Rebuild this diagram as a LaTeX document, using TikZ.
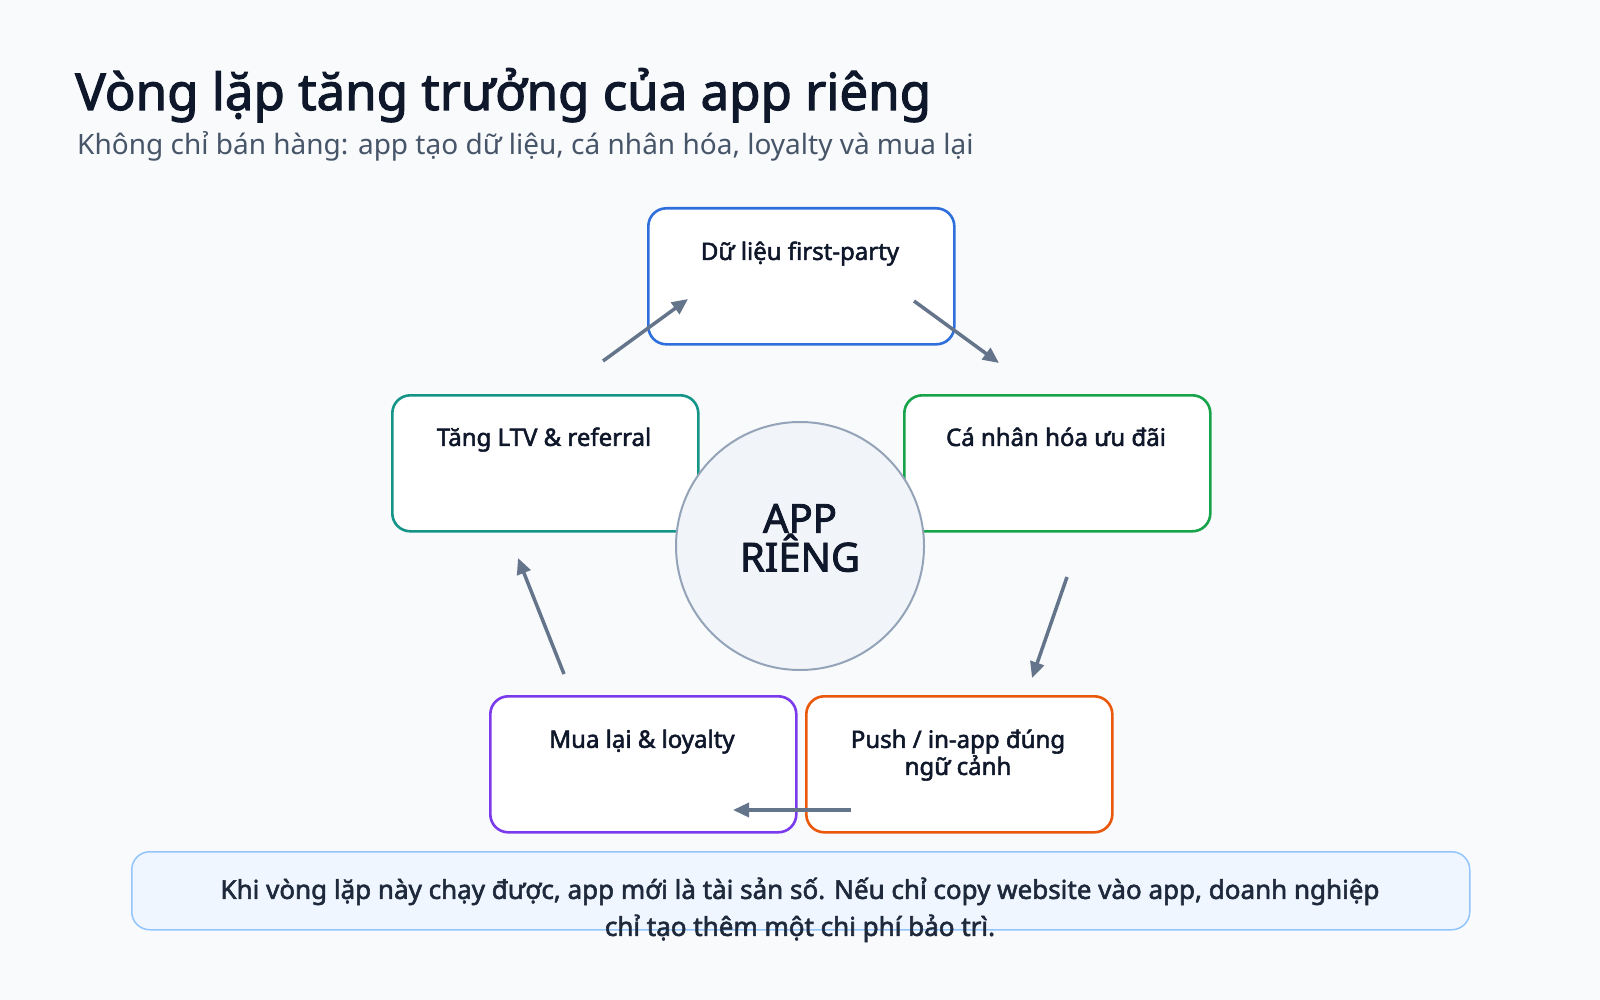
\documentclass[tikz,border=0pt]{standalone}
\usepackage{fontspec}
\setmainfont{Noto Sans}[BoldFont={Noto Sans}, BoldFeatures={FakeBold=2.2}]
\usetikzlibrary{arrows.meta}
\definecolor{ink}{HTML}{0F172A}
\definecolor{sub}{HTML}{475569}
\definecolor{bg}{HTML}{F8FAFC}
\definecolor{cblue}{HTML}{2F6FDC}
\definecolor{cteal}{HTML}{159488}
\definecolor{cgreen}{HTML}{16A34A}
\definecolor{cpurple}{HTML}{7C3AED}
\definecolor{corange}{HTML}{EA580C}
\definecolor{arr}{HTML}{64748B}
\tikzset{
 box/.style={draw=#1, line width=2.6pt, fill=white, rounded corners=18pt, minimum width=306pt, minimum height=136pt, anchor=north west},
 lbl/.style={font=\bfseries\fontsize{24}{28}\selectfont, text=ink, align=center, anchor=north},
 flow/.style={draw=arr, line width=3.5pt, -{Triangle[width=14pt,length=16pt]}},
}
\begin{document}
\begin{tikzpicture}[x=1pt,y=-1pt]
\fill[bg] (0,0) rectangle (1600,1000);
\useasboundingbox (0,0) rectangle (1600,1000);
\node[anchor=base west, inner sep=0, text=ink, font=\bfseries\fontsize{51}{60}\selectfont] (title) at (75,110) {Vòng lặp tăng trưởng của app riêng};
\node[anchor=base west, inner sep=0, text=sub, font=\fontsize{28}{32}\selectfont] (subt) at (77,155) {Không chỉ bán hàng: app tạo dữ liệu, cá nhân hóa, loyalty và mua lại};

\node[box=cblue] (b1) at (647,207) {};
\node[box=cteal] (b2) at (391,394) {};
\node[box=cgreen] (b3) at (903,394) {};
\node[box=cpurple] (b4) at (489,695) {};
\node[box=corange] (b5) at (805,695) {};
\node[lbl] (t1) at (800,238) {Dữ liệu first-party};
\node[lbl] (t2) at (544,424) {Tăng LTV \& referral};
\node[lbl] (t3) at (1056,424) {Cá nhân hóa ưu đãi};
\node[lbl] (t4) at (642,726) {Mua lại \& loyalty};
\node[lbl, font=\bfseries\fontsize{24}{27}\selectfont] (t5) at (958,726) {Push / in-app đúng\\ngữ cảnh};

\node[circle, draw={rgb,255:red,148;green,163;blue,184}, line width=2pt, fill={rgb,255:red,241;green,245;blue,249}, minimum size=248pt, inner sep=0] (c) at (800,546) {};
\node[font=\bfseries\fontsize{40}{31}\selectfont, text=ink, align=center] (ct) at (800,538) {APP\\RIÊNG};

\coordinate (a1s) at (603,361); \coordinate (a1e) at (688,299);
\coordinate (a2s) at (914,301); \coordinate (a2e) at (999,363);
\coordinate (a3s) at (1067,577); \coordinate (a3e) at (1032,678);
\coordinate (a4s) at (851,810); \coordinate (a4e) at (733,810);
\coordinate (a5s) at (564,674); \coordinate (a5e) at (518,558);
\draw[flow] (a1s) -- (a1e);
\draw[flow] (a2s) -- (a2e);
\draw[flow] (a3s) -- (a3e);
\draw[flow] (a4s) -- (a4e);
\draw[flow] (a5s) -- (a5e);

\node[draw={rgb,255:red,147;green,197;blue,253}, line width=1.5pt, fill={rgb,255:red,239;green,246;blue,255}, rounded corners=18pt, minimum width=1338pt, minimum height=78pt, anchor=north west] (note) at (131,851) {};
\node[font=\bfseries\fontsize{26}{37}\selectfont, text={rgb,255:red,30;green,41;blue,59}, align=center, anchor=north] (nt) at (800,874) {Khi vòng lặp này chạy được, app mới là tài sản số. Nếu chỉ copy website vào app, doanh nghiệp\\chỉ tạo thêm một chi phí bảo trì.};
\end{tikzpicture}
\end{document}
